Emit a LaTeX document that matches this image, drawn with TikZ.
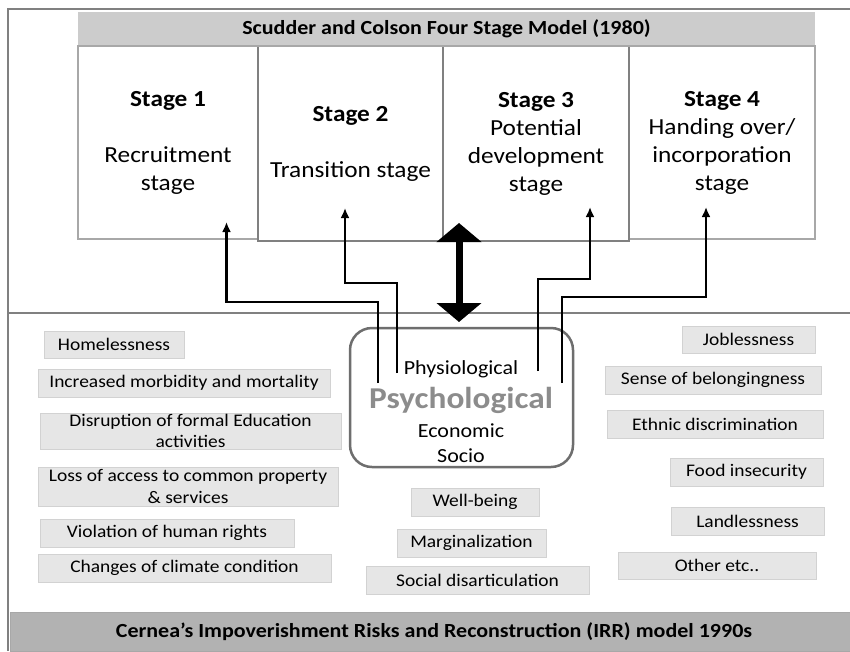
\documentclass[tikz,border=0pt]{standalone}
\usepackage{fontspec}
\setmainfont{Carlito}[FakeStretch=1.1]
\usetikzlibrary{arrows.meta}
\definecolor{titlegray}{HTML}{CCCCCC}
\definecolor{boxgray}{HTML}{E6E6E6}
\definecolor{boxline}{HTML}{D2D2D2}
\definecolor{framegray}{HTML}{808080}
\definecolor{stageline}{HTML}{A8A8A8}
\definecolor{barfill}{HTML}{B2B2B2}
\definecolor{psygray}{HTML}{8C8C8C}
\definecolor{ctrline}{HTML}{6E6E6E}
\begin{document}
\begin{tikzpicture}[x=1pt,y=-1pt,
  stagebox/.style={draw=stageline, line width=1.5pt, fill=white, align=center, inner sep=0pt,
    font=\fontsize{23}{28}\selectfont},
  stagethick/.style={stagebox, draw=framegray, line width=2.5pt},
  riskbox/.style={draw=boxline, line width=1pt, fill=boxgray, align=center, inner sep=0pt,
    font=\fontsize{17.7}{21.5}\selectfont},
  link/.style={line width=2.6pt, -{Latex[length=10pt,width=9pt]}},
  bigarrow/.style={line width=7pt, {Triangle[width=44pt,length=19pt]}-{Triangle[width=44pt,length=19pt]}},
  ctrtext/.style={inner sep=0pt, font=\fontsize{20}{24}\selectfont},
  framestyle/.style={draw=framegray, line width=1.5pt}
]
\useasboundingbox (0,0) rectangle (850,651);
\fill[white] (0,0) rectangle (850,651);

% outer frame
\draw[framestyle] (8,651) -- (8,9) -- (851,9);
\draw[framestyle] (8,313) -- (851,313);

% stage boxes
\node[stagebox, minimum width=180pt, minimum height=193pt] (s1) at (168,142.5)
  {\textbf{Stage 1}\\[28pt]Recruitment\\stage};
\node[stagebox, minimum width=186pt, minimum height=193pt] (s4) at (722,142.5)
  {\textbf{Stage 4}\\Handing over/\\incorporation\\stage};
\node[stagethick, minimum width=185pt, minimum height=195pt] (s2) at (350.5,143.5)
  {\textbf{Stage 2}\\[28pt]Transition stage};
\node[stagethick, minimum width=186pt, minimum height=195pt] (s3) at (536,143.5)
  {\textbf{Stage 3}\\Potential\\development\\stage};

% title bar
\node[fill=titlegray, minimum width=737pt, minimum height=34pt, inner sep=0pt,
  font=\fontsize{20}{23}\selectfont\bfseries] (title) at (446.5,29)
  {Scudder and Colson Four Stage Model (1980)};
\draw[draw=stageline, line width=1.5pt] (title.south west) -- (title.south east);

% centre box
\node[draw=ctrline, line width=2.5pt, rounded corners=22pt, fill=white,
  minimum width=223pt, minimum height=139pt] (ctr) at (461.5,397.5) {};
\node[ctrtext] (phys) at (461,369) {Physiological};
\node[inner sep=0pt, text=psygray, font=\fontsize{30.3}{33}\selectfont\bfseries] (psy) at (461,400) {Psychological};
\node[ctrtext] (eco) at (461,431) {Economic};
\node[ctrtext] (soc) at (461,456) {Socio};

% connectors
\coordinate (a1s) at (378,383); \coordinate (a1e) at (378,302); \coordinate (a1t) at (226.5,222);
\coordinate (a2s) at (397,373); \coordinate (a2e) at (397,283); \coordinate (a2t) at (345,208);
\coordinate (a3s) at (538,371); \coordinate (a3e) at (538,279); \coordinate (a3t) at (590,207);
\coordinate (a4s) at (562,383); \coordinate (a4e) at (562,297); \coordinate (a4t) at (706,207);
\draw[link] (a1s) -- (a1e) -| (a1t);
\draw[link] (a2s) -- (a2e) -| (a2t);
\draw[link] (a3s) -- (a3e) -| (a3t);
\draw[link] (a4s) -- (a4e) -| (a4t);
\coordinate (dtop) at (459,223);
\coordinate (dbot) at (459,322);
\draw[bigarrow] (dbot) -- (dtop);

% left risks
\node[riskbox, minimum width=140pt, minimum height=27pt] (r1) at (114,344.5) {Homelessness};
\node[riskbox, minimum width=292pt, minimum height=28pt] (r2) at (184,383) {Increased morbidity and mortality};
\node[riskbox, minimum width=301pt, minimum height=36pt] (r3) at (190.5,431) {Disruption of formal Education\\activities};
\node[riskbox, minimum width=300pt, minimum height=39pt] (r4) at (188,486.5) {Loss of access to common property\\\& services};
\node[riskbox, minimum width=254pt, minimum height=28pt] (r5) at (167,533) {Violation of human rights};
\node[riskbox, minimum width=293pt, minimum height=28pt] (r6) at (184.5,568) {Changes of climate condition};
% middle risks
\node[riskbox, minimum width=128pt, minimum height=28pt] (m1) at (475,502) {Well-being};
\node[riskbox, minimum width=149pt, minimum height=28pt] (m2) at (471.5,543) {Marginalization};
\node[riskbox, minimum width=223pt, minimum height=28pt] (m3) at (477.5,580) {Social disarticulation};
% right risks
\node[riskbox, minimum width=133pt, minimum height=27pt] (q1) at (748.5,339.5) {Joblessness};
\node[riskbox, minimum width=216pt, minimum height=28pt] (q2) at (713,380) {Sense of belongingness};
\node[riskbox, minimum width=216pt, minimum height=28pt] (q3) at (715,424) {Ethnic discrimination};
\node[riskbox, minimum width=153pt, minimum height=28pt] (q4) at (746.5,472) {Food insecurity};
\node[riskbox, minimum width=153pt, minimum height=28pt] (q5) at (747.5,521) {Landlessness};
\node[riskbox, minimum width=198pt, minimum height=27pt] (q6) at (717,565.5) {Other etc..};

% bottom bar
\node[fill=barfill, draw=stageline, line width=1pt, minimum width=842pt, minimum height=39pt, inner sep=0pt,
  font=\fontsize{20}{23}\selectfont\bfseries] (irr) at (431,632)
  {\hspace*{6pt}Cernea’s Impoverishment Risks and Reconstruction (IRR) model 1990s};
\end{tikzpicture}
\end{document}
